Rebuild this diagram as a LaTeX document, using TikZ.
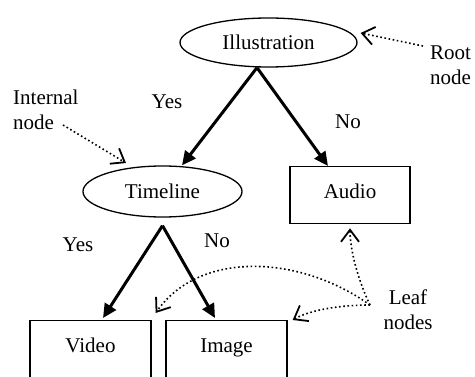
\documentclass[tikz,border=0pt]{standalone}
\usepackage{fontspec}
\setmainfont{Liberation Serif}
\usetikzlibrary{arrows.meta,shapes.geometric}
\begin{document}
\begin{tikzpicture}[x=1pt,y=-1pt,
  every node/.style={font=\fontsize{21}{25}\selectfont, inner sep=0pt},
  oval/.style={draw, ellipse, line width=1.3pt},
  leafbox/.style={draw, rectangle, line width=1.3pt, minimum width=121pt, text height=32pt, text depth=25pt, anchor=north},
  thickarrow/.style={line width=3pt, -{Triangle[length=14pt,width=13pt]}},
  callout/.style={line width=1.6pt, dash pattern=on 1.6pt off 2.6pt, -{Straight Barb[length=12pt,width=18pt,line width=1.8pt]}}]
\useasboundingbox (0,0) rectangle (475,377);
\clip (0,0) rectangle (475,377);
% nodes
\node[oval, minimum width=177pt, minimum height=49pt] (ill) at (268.5,42.5) {Illustration};
\node[oval, minimum width=159pt, minimum height=51pt] (tl) at (162.5,191.5) {Timeline};
\node[leafbox, minimum width=120pt] (aud) at (350,166) {Audio};
\node[leafbox, text depth=70pt] (vid) at (90.5,320) {Video};
\node[leafbox, text depth=70pt] (img) at (226.5,320) {Image};
% edge labels
\node (y1) at (167,102) {Yes};
\node (n1) at (348,122) {No};
\node (y2) at (78,245) {Yes};
\node (n2) at (217,241) {No};
% callout texts
\node[anchor=west, align=left] (rt) at (430,65.5) {Root\\node};
\node[anchor=west, align=left] (int) at (13,110) {Internal\\node};
\node[align=center] (leaf) at (408,309.5) {Leaf\\nodes};
\coordinate (rtA) at (423,46);
\coordinate (intA) at (63,125);
\coordinate (lf) at (370,305);
% tree edges
\draw[thickarrow] ([xshift=-11.5pt]ill.south) -- ([xshift=19.5pt]tl.north);
\draw[thickarrow] ([xshift=-11.5pt]ill.south) -- ([xshift=-22pt]aud.north);
\draw[thickarrow] ([yshift=-8pt]tl.south) -- ([xshift=12.5pt,yshift=2pt]vid.north);
\draw[thickarrow] ([yshift=-8pt]tl.south) -- ([xshift=-11.5pt,yshift=2pt]img.north);
% callouts
\draw[callout] (rtA) -- ([xshift=3pt,yshift=9.5pt]ill.east);
\draw[callout] (intA) -- ([xshift=-36.5pt,yshift=28.5pt]tl.center);
\draw[callout] (lf) .. controls (358,280) and (350,250) .. ([yshift=-4pt]aud.south);
\draw[callout] (lf) .. controls (300,255) and (200,250) .. ([xshift=4pt,yshift=7pt]vid.north east);
\draw[callout] (lf) .. controls (340,305) and (310,310) .. ([xshift=5pt]img.north east);
\end{tikzpicture}
\end{document}
